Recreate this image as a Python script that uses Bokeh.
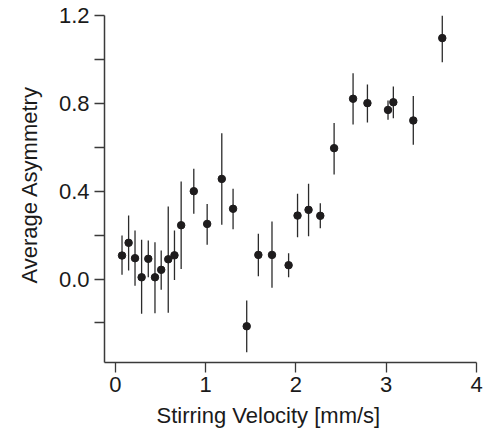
from bokeh.plotting import figure
from bokeh.models import ColumnDataSource, Range1d, FixedTicker, PrintfTickFormatter, Title
from bokeh.embed import file_html
from bokeh.resources import INLINE

velocity = [0.074, 0.147, 0.218, 0.291, 0.365, 0.439, 0.508, 0.586, 0.655, 0.729,
            0.869, 1.017, 1.179, 1.304, 1.455, 1.584, 1.735, 1.919, 2.018, 2.140,
            2.270, 2.423, 2.633, 2.792, 3.020, 3.079, 3.300, 3.621]
asymmetry = [0.107, 0.165, 0.095, 0.008, 0.092, 0.008, 0.042, 0.090, 0.108, 0.245,
             0.400, 0.251, 0.456, 0.320, -0.215, 0.110, 0.110, 0.063, 0.289, 0.315,
             0.288, 0.596, 0.821, 0.801, 0.770, 0.805, 0.722, 1.097]
err_upper = [0.198, 0.289, 0.221, 0.179, 0.175, 0.168, 0.130, 0.330, 0.221, 0.444,
             0.502, 0.342, 0.664, 0.411, -0.098, 0.206, 0.262, 0.117, 0.388, 0.434,
             0.345, 0.711, 0.937, 0.886, 0.813, 0.877, 0.834, 1.200]
err_lower = [0.019, 0.039, -0.030, -0.158, 0.008, -0.156, -0.049, -0.153, -0.004, 0.046,
             0.297, 0.156, 0.247, 0.227, -0.333, 0.013, -0.040, 0.008, 0.190, 0.195,
             0.231, 0.476, 0.704, 0.713, 0.725, 0.732, 0.612, 0.987]

x_ticks = [0, 1, 2, 3, 4]
y_ticks = [0.0, 0.4, 0.8, 1.2]
y_minor = [-0.2, 0.2, 0.6, 1.0]
x_title = "Stirring Velocity [mm/s]"
y_title = "Average Asymmetry"

source = ColumnDataSource(dict(x=velocity, y=asymmetry, hi=err_upper, lo=err_lower))

FONT = "Liberation Sans"
AX = "#3a3a3a"
TXT = "#1a1a1a"

p = figure(width=484, height=439, x_range=Range1d(-0.12, 4.0), y_range=Range1d(-0.38, 1.2),
           output_backend="svg", toolbar_location=None,
           min_border_left=103, min_border_right=8, min_border_top=15, min_border_bottom=77)
p.grid.visible = False
p.outline_line_color = None
p.background_fill_color = "white"

p.segment(x0="x", y0="lo", x1="x", y1="hi", source=source, line_color="#2b2b2b", line_width=1.3)
p.scatter(x="x", y="y", source=source, size=7.5, fill_color="#1e1c1d", line_color="#1e1c1d")

xa = p.xaxis[0]
xa.ticker = FixedTicker(ticks=x_ticks)
xa.major_tick_out = 10
xa.major_tick_in = 0
xa.minor_tick_out = 0
xa.minor_tick_in = 0
xa.major_label_standoff = 4

ya = p.yaxis[0]
ya.ticker = FixedTicker(ticks=y_ticks, minor_ticks=y_minor)
ya.formatter = PrintfTickFormatter(format="%.1f")
ya.major_tick_out = 10
ya.major_tick_in = 0
ya.minor_tick_out = 10
ya.minor_tick_in = 0
ya.major_label_standoff = 5

for ax in (xa, ya):
    ax.axis_line_color = AX
    ax.axis_line_width = 1.5
    ax.major_tick_line_color = AX
    ax.major_tick_line_width = 1.3
    ax.minor_tick_line_color = AX
    ax.minor_tick_line_width = 1.3
    ax.major_label_text_font = FONT
    ax.major_label_text_font_size = "22px"
    ax.major_label_text_color = TXT

p.add_layout(Title(text=x_title, align="left", offset=52, standoff=13,
                   text_font=FONT, text_font_size="22px", text_font_style="normal",
                   text_color=TXT), "below")
p.add_layout(Title(text=y_title, align="left", offset=79, standoff=28,
                   text_font=FONT, text_font_size="22px", text_font_style="normal",
                   text_color=TXT), "left")

open("out.html", "w").write(file_html(p, INLINE))
